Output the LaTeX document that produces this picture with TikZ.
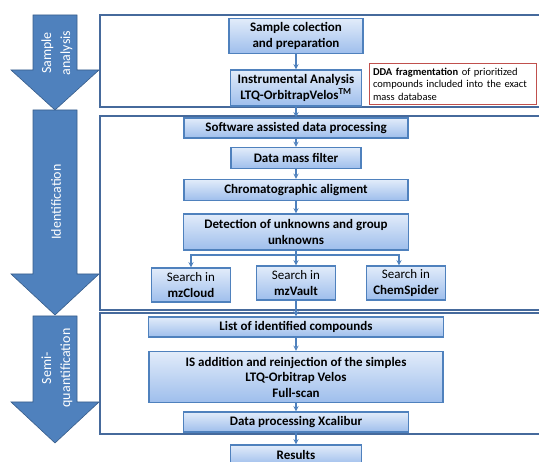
\documentclass[tikz,border=0pt]{standalone}
\usepackage{fontspec}
\setmainfont{Carlito}
\usetikzlibrary{positioning}

\definecolor{accent}{RGB}{79,129,189}
\definecolor{accentdark}{RGB}{56,93,138}
\definecolor{boxtop}{RGB}{226,236,250}
\definecolor{boxbot}{RGB}{158,190,236}
\definecolor{framecol}{RGB}{70,106,156}
\definecolor{notered}{RGB}{192,80,77}

\begin{document}
\begin{tikzpicture}%
  [x=1pt, y=-1pt,
   >=stealth,
   stepbox/.style={draw=accent, line width=1.4pt, top color=boxtop, bottom color=boxbot,
                   font=\bfseries\fontsize{13}{15.5}\selectfont, align=center,
                   inner sep=2pt, minimum height=20pt},
   searchbox/.style={stepbox, font=\fontsize{13}{15.5}\selectfont,
                     minimum width=79pt, minimum height=34pt},
   notebox/.style={draw=notered, line width=1.2pt, fill=white, align=left,
                   font=\fontsize{10.5}{12.5}\selectfont, text width=160pt,
                   minimum height=41pt},
   stage/.style={draw=framecol, line width=1.2pt},
   bigarrow/.style={fill=accent, draw=accentdark, line width=0.6pt},
   stagelabel/.style={rotate=90, text=white, align=center,
                      font=\fontsize{14}{19}\selectfont},
   link/.style={->, color=accent, line width=1.3pt}
  ]
\clip (0,0) rectangle (539,462);

% stage arrows on the left
\foreach \ya/\yb/\yc in {15/70/110, 110/274/315, 316/402/443}
  \draw[bigarrow] (33,\ya) -- (77,\ya) -- (77,\yb) -- (99,\yb) -- (55,\yc)
                  -- (11,\yb) -- (33,\yb) -- cycle;
\node[stagelabel] (lsample) at (57,53)  {Sample\\analysis};
\node[stagelabel] (lident)  at (56,202) {Identification};
\node[stagelabel] (lquant)  at (57,368) {Semi-\\quantification};

% stage frames
\draw[stage] (100,15)  rectangle (560,107);
\draw[stage] (100,116) rectangle (560,310);
\draw[stage] (100,313) rectangle (560,434);

\node[stepbox, minimum width=134pt, minimum height=35pt] (sample) at (296,36)
  {Sample colection\\and preparation};
\node[stepbox, minimum width=131pt, minimum height=36pt] (instr) at (296,88)
  {Instrumental Analysis\\LTQ-OrbitrapVelos\textsuperscript{TM}};
\node[notebox] (dda) at (453,84)
  {\textbf{DDA fragmentation} of prioritized\\compounds included into the exact\\mass database};

\node[stepbox, minimum width=224pt] (soft) at (296,128) {Software assisted data processing};
\node[stepbox, minimum width=130pt, minimum height=21pt] (filter) at (296,158) {Data mass filter};
\node[stepbox, minimum width=224pt, minimum height=21pt] (chrom) at (296,190) {Chromatographic aligment};
\node[stepbox, minimum width=225pt, minimum height=36pt] (detect) at (296,232)
  {Detection of unknowns and group\\unknowns};

\node[searchbox] (cloud)  at (191,285) {Search in\\\textbf{mzCloud}};
\node[searchbox] (vault)  at (296,283) {Search in\\\textbf{mzVault}};
\node[searchbox] (spider) at (406,283) {Search in\\\textbf{ChemSpider}};

\node[stepbox, minimum width=295pt] (list) at (296,327) {List of identified compounds};
\node[stepbox, minimum width=294pt, minimum height=51pt] (isadd) at (296,377)
  {IS addition and reinjection of the simples\\LTQ-Orbitrap Velos\\Full-scan};
\node[stepbox, minimum width=225pt] (xcal) at (296,422) {Data processing Xcalibur};
\node[stepbox, minimum width=131pt] (results) at (296,455) {Results};

\coordinate (fork) at (296,255);

\path[link]
   (sample) edge (instr)
   (instr)  edge (soft)
   (soft)   edge (filter)
   (filter) edge (chrom)
   (chrom)  edge (detect)
   (detect) edge (vault)
   (vault)  edge (list)
   (list)   edge (isadd)
   (isadd)  edge (xcal)
   (xcal)   edge (results)
   ;
\draw[link] (fork) -| (cloud.north);
\draw[link] (fork) -| ([xshift=-7pt]spider.north);
\end{tikzpicture}
\end{document}
